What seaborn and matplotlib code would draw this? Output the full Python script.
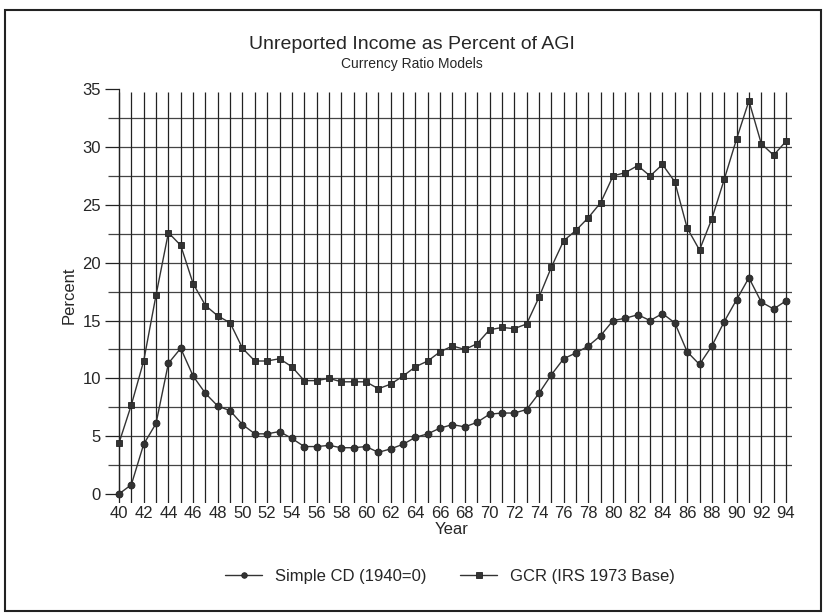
import numpy as np
import pandas as pd
import matplotlib
matplotlib.use("Agg")
import matplotlib.pyplot as plt
import seaborn as sns

years = list(range(40, 95))
simple_cd = [0.0, 0.8, 4.3, 6.1, 11.3, 12.6, 10.2, 8.7, 7.6, 7.2,
             6.0, 5.2, 5.2, 5.4, 4.8, 4.1, 4.1, 4.2, 4.0, 4.0,
             4.1, 3.6, 3.9, 4.3, 4.9, 5.2, 5.7, 6.0, 5.8, 6.2,
             6.9, 7.0, 7.0, 7.3, 8.7, 10.3, 11.7, 12.2, 12.8, 13.7,
             15.0, 15.2, 15.5, 15.0, 15.6, 14.8, 12.3, 11.2, 12.8, 14.9,
             16.8, 18.7, 16.6, 16.0, 16.7]
gcr = [4.4, 7.7, 11.5, 17.2, 22.6, 21.5, 18.2, 16.3, 15.4, 14.8,
       12.6, 11.5, 11.5, 11.7, 11.0, 9.8, 9.8, 10.0, 9.7, 9.7,
       9.7, 9.1, 9.5, 10.2, 11.0, 11.5, 12.3, 12.8, 12.5, 13.0,
       14.2, 14.4, 14.3, 14.7, 17.0, 19.6, 21.9, 22.8, 23.9, 25.2,
       27.5, 27.8, 28.4, 27.5, 28.5, 27.0, 23.0, 21.1, 23.8, 27.2,
       30.7, 34.0, 30.3, 29.3, 30.5]
series_names = ["Simple CD (1940=0)", "GCR (IRS 1973 Base)"]
xtick_labels = [str(y) for y in range(40, 95, 2)]

df = pd.DataFrame({"Year": years * 2,
                   "Percent": simple_cd + gcr,
                   "Series": [series_names[0]] * len(years) + [series_names[1]] * len(years)})

sns.set_style("white")
plt.rcParams["font.family"] = ["Liberation Sans", "DejaVu Sans"]

fig = plt.figure(figsize=(8.24, 6.13), dpi=100)
ax = fig.add_axes([0.1354, 0.1791, 0.8252, 0.679])

# grid drawn by hand: horizontal every 2.5, vertical every year
ax.hlines(np.arange(2.5, 35, 2.5), 40, 94.45, color="#444444", lw=0.9, zorder=1)
ax.vlines(years, -0.75, 34.8, color="#222222", lw=0.9, zorder=1)

sns.lineplot(data=df, x="Year", y="Percent", hue="Series", style="Series",
             markers=["o", "s"], dashes=False, palette=["#333333", "#333333"],
             linewidth=1.0, markersize=5, markeredgecolor="#222222",
             markeredgewidth=0.6, ax=ax, zorder=3, legend=True)

ax.set_xlim(39.4, 94.45)
ax.set_ylim(-0.8, 35.2)
for s in ["top", "right", "bottom"]:
    ax.spines[s].set_visible(False)
ax.spines["left"].set_bounds(0, 35)
ax.spines["left"].set_position(("data", 40))
ax.spines["left"].set_color("#222222")
ax.spines["left"].set_linewidth(0.9)

ax.set_yticks(np.arange(0, 36, 5))
ax.set_yticks(np.arange(2.5, 35, 2.5), minor=True)
ax.tick_params(axis="y", which="major", length=10, width=0.9, color="#222222",
               labelsize=12, pad=3, left=True)
ax.tick_params(axis="y", which="minor", length=8, width=0.9, color="#444444", left=True)
ax.set_xticks(range(40, 95, 2))
ax.set_xticklabels(xtick_labels)
ax.tick_params(axis="x", length=0, labelsize=12, pad=2)

ax.set_xlabel("Year", fontsize=12, labelpad=1)
ax.set_ylabel("Percent", fontsize=12, labelpad=4)

fig.text(0.5, 0.927, "Unreported Income as Percent of AGI", ha="center", va="center", fontsize=14)
fig.text(0.5, 0.896, "Currency Ratio Models", ha="center", va="center", fontsize=10)

handles, labels = ax.get_legend_handles_labels()
ax.legend(handles, labels, loc="center", bbox_to_anchor=(0.498, -0.175), ncol=2,
          frameon=False, fontsize=12, handlelength=2.2, columnspacing=2.0, markerscale=0.8)

# outer frame of the page
fig.patches.append(plt.Rectangle((0.006, 0.004), 0.99, 0.98, transform=fig.transFigure,
                                 fill=False, edgecolor="#222222", lw=1.5))

fig.savefig("out.png", dpi=100)
